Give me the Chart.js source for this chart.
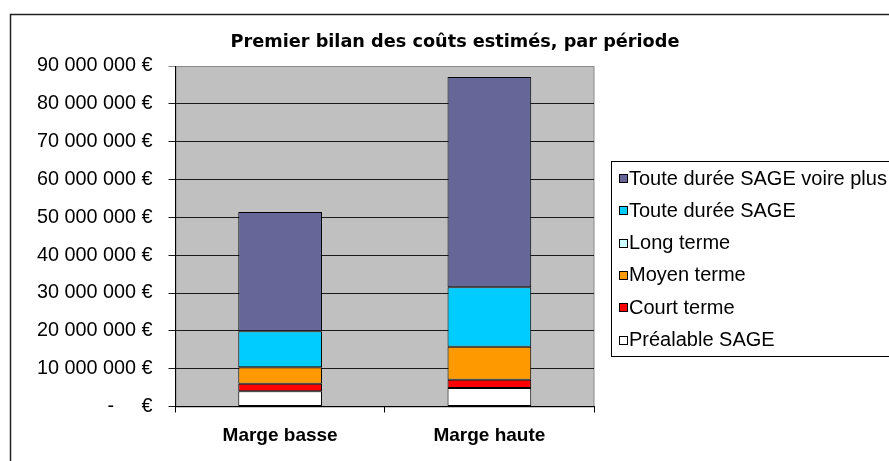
<!DOCTYPE html>
<html>
<head>
<meta charset="utf-8">
<script src="https://cdn.jsdelivr.net/npm/chart.js@4.4.1/dist/chart.umd.min.js"></script>
<style>
html,body{margin:0;padding:0;background:#fff;}
#wrap{width:889px;height:461px;position:relative;}
</style>
</head>
<body>
<div id="wrap"><canvas id="c" width="889" height="461"></canvas></div>
<script>
const categories = ["Marge basse", "Marge haute"];
const seriesNames = ["Préalable SAGE", "Court terme", "Moyen terme", "Long terme", "Toute durée SAGE", "Toute durée SAGE voire plus"];
const prealable = [4000000, 4900000];
const courtTerme = [2000000, 2200000];
const moyenTerme = [4400000, 8700000];
const longTerme = [0, 0];
const touteDuree = [9500000, 15700000];
const touteDureePlus = [31500000, 55600000];
const seriesColors = ["#FFFFFF", "#FF0000", "#FF9900", "#CCFFFF", "#00CCFF", "#666699"];
const yTicks = [0, 10000000, 20000000, 30000000, 40000000, 50000000, 60000000, 70000000, 80000000, 90000000];
const titleText = "Premier bilan des coûts estimés, par période";

const seriesValues = [prealable, courtTerme, moyenTerme, longTerme, touteDuree, touteDureePlus];

function fmtEuro(v) {
  if (v === 0) return "-     €";
  const s = Math.round(v).toString().replace(/\B(?=(\d{3})+(?!\d))/g, " ");
  return s + " €";
}

const decor = {
  id: "decor",
  beforeDraw(chart) {
    const ctx = chart.ctx, a = chart.chartArea;
    ctx.save();
    ctx.fillStyle = "#fff";
    ctx.fillRect(0, 0, chart.width, chart.height);
    ctx.strokeStyle = "#222";
    ctx.lineWidth = 1.5;
    ctx.strokeRect(10.5, 14.5, 1000, 1000);
    ctx.fillStyle = "#C0C0C0";
    ctx.fillRect(a.left, a.top, a.right - a.left, a.bottom - a.top);
    ctx.strokeStyle = "#8a8a8a";
    ctx.lineWidth = 1;
    ctx.strokeRect(a.left + 0.5, a.top + 0.5, a.right - a.left - 0.5, a.bottom - a.top);
    ctx.restore();
  },
  afterDraw(chart) {
    const ctx = chart.ctx;
    ctx.save();
    ctx.fillStyle = "#000";
    ctx.font = "bold 17.7px 'DejaVu Sans'";
    ctx.textAlign = "center";
    ctx.textBaseline = "alphabetic";
    ctx.fillText(titleText, 455, 47);
    ctx.strokeStyle = "#000";
    ctx.lineWidth = 1;
    ctx.strokeRect(611.5, 161.5, 400, 195);
    const ds = chart.data.datasets.slice().reverse();
    ctx.font = "20px 'Liberation Sans'";
    ctx.textAlign = "left";
    ctx.textBaseline = "middle";
    ds.forEach((d, i) => {
      const y = 178 + i * 32.3;
      const top = Math.round(y - 4);
      ctx.fillStyle = d.backgroundColor;
      ctx.fillRect(619, top, 9, 9);
      ctx.strokeStyle = "#000";
      ctx.strokeRect(619.5, top + 0.5, 8, 8);
      ctx.fillStyle = "#000";
      ctx.fillText(d.label, 629, y + 1);
    });
    ctx.restore();
  }
};

new Chart(document.getElementById("c"), {
  type: "bar",
  data: {
    labels: categories,
    datasets: seriesNames.map((n, i) => ({
      label: n,
      data: seriesValues[i],
      backgroundColor: seriesColors[i],
      borderColor: "#000",
      borderWidth: 1,
      borderSkipped: false,
      categoryPercentage: 1,
      barPercentage: 0.4
    }))
  },
  options: {
    responsive: false,
    animation: false,
    devicePixelRatio: 1,
    layout: { padding: { left: 0, right: 295, top: 66, bottom: 0 } },
    plugins: { legend: { display: false }, title: { display: false }, tooltip: { enabled: false } },
    scales: {
      x: {
        stacked: true,
        afterFit(s) { s.height = 54.5; },
        grid: { drawOnChartArea: false, drawTicks: true, tickLength: 6, color: "#000", offset: true },
        border: { color: "#000", width: 1 },
        ticks: { color: "#000", font: { family: "'Liberation Sans'", size: 19, weight: "bold" }, padding: 12 }
      },
      y: {
        stacked: true,
        min: 0,
        max: 90000000,
        afterFit(s) { s.width = 175.5; },
        afterBuildTicks(s) { s.ticks = yTicks.map(v => ({ value: v })); },
        grid: {
          color: (c) => (c.tick && c.tick.value === 90000000) ? "#8a8a8a" : "#1a1a1a",
          tickLength: 7,
          drawTicks: true
        },
        border: { color: "#000", width: 1 },
        ticks: {
          color: "#000",
          font: { family: "'Liberation Sans'", size: 19.8 },
          padding: 16,
          callback: (v) => fmtEuro(v)
        }
      }
    }
  },
  plugins: [decor]
});
</script>
</body>
</html>
